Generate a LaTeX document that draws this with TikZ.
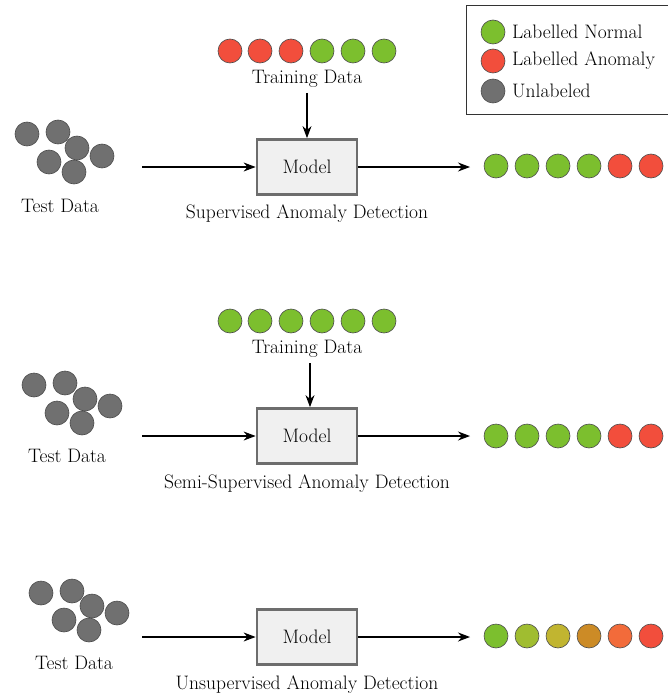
\documentclass[tikz,border=0pt]{standalone}
\usetikzlibrary{arrows.meta}
\definecolor{cgreen}{HTML}{7CBF2E}
\definecolor{cred}{HTML}{F24E3C}
\definecolor{cgray}{HTML}{707070}
\definecolor{cg2}{HTML}{A0BD30}
\definecolor{cg3}{HTML}{C1B530}
\definecolor{cg4}{HTML}{CC8B26}
\definecolor{cg5}{HTML}{F26B3A}
\definecolor{boxfill}{HTML}{F0F0F0}
\definecolor{boxline}{HTML}{6D6D6D}
\begin{document}
\begin{tikzpicture}[x=1pt,y=-1pt,
  dot/.style={circle,draw=black!70,line width=0.6pt,minimum size=24pt,inner sep=0pt},
  gdot/.style={dot,fill=cgreen},
  rdot/.style={dot,fill=cred},
  udot/.style={dot,fill=cgray},
  modelbox/.style={draw=boxline,fill=boxfill,line width=2.8pt,minimum width=100pt,minimum height=55pt,font=\fontsize{19.5}{23}\selectfont},
  lbl/.style={font=\fontsize{19.5}{23}\selectfont,inner sep=0pt},
  arr/.style={-{Stealth[length=12pt,width=9pt]},line width=1.1pt}
]
\useasboundingbox (0,0) rectangle (668,698);
% legend
\node[draw=black!80,line width=0.8pt,minimum width=202pt,minimum height=109pt,anchor=north west] (legend) at (465.5,5.5) {};
\node[gdot] (lg) at (493,32) {};
\node[rdot] (lr) at (493,61) {};
\node[udot] (lu) at (493,91) {};
\node[lbl,anchor=west] (lgt) at (512,32) {Labelled Normal};
\node[lbl,anchor=west] (lrt) at (512,61) {Labelled Anomaly};
\node[lbl,anchor=west] (lut) at (512,91) {Unlabeled};

% ===== Section 1 =====
\foreach \x/\c [count=\i] in {230/rdot,260/rdot,291/rdot,322/gdot,353/gdot,384/gdot}
  \node[\c] (ta\i) at (\x,51) {};
\node[lbl] (trA) at (307,79) {Training Data};
\node[modelbox] (mA) at (307,167) {Model};
\coordinate (trAs) at (307,93);
\draw[arr] (trAs) -- (mA.north);
\foreach \x/\y [count=\i] in {27/134,58/132,77/148,49/162,102/156,74/172}
  \node[udot] (xa\i) at (\x,\y) {};
\node[lbl] (teA) at (60,206) {Test Data};
\coordinate (inA) at (142,167);
\draw[arr] (inA) -- (mA.west);
\foreach \x/\c [count=\i] in {496/gdot,527/gdot,558/gdot,589/gdot,620/rdot,651/rdot}
  \node[\c] (oa\i) at (\x,166) {};
\coordinate (outA) at (470,167);
\draw[arr] (mA.east) -- (outA);
\node[lbl] (capA) at (307,214) {Supervised Anomaly Detection};

% ===== Section 2 =====
\foreach \x [count=\i] in {230,260,291,322,353,384}
  \node[gdot] (tb\i) at (\x,321) {};
\node[lbl] (trB) at (307,349) {Training Data};
\node[modelbox] (mB) at (307,436) {Model};
\coordinate (trBs) at (310,363);
\draw[arr] (trBs) -- (trBs |- mB.north);
\foreach \x/\y [count=\i] in {34/385,65/383,85/399,57/413,110/406,82/423}
  \node[udot] (xb\i) at (\x,\y) {};
\node[lbl] (teB) at (67,456) {Test Data};
\coordinate (inB) at (142,436);
\draw[arr] (inB) -- (mB.west);
\foreach \x/\c [count=\i] in {496/gdot,527/gdot,558/gdot,589/gdot,620/rdot,651/rdot}
  \node[\c] (ob\i) at (\x,436) {};
\coordinate (outB) at (470,436);
\draw[arr] (mB.east) -- (outB);
\node[lbl] (capB) at (307,484) {Semi-Supervised Anomaly Detection};

% ===== Section 3 =====
\node[modelbox] (mC) at (307,637) {Model};
\foreach \x/\y [count=\i] in {41/593,72/591,92/606,64/620,117/613,89/630}
  \node[udot] (xc\i) at (\x,\y) {};
\node[lbl] (teC) at (74,663) {Test Data};
\coordinate (inC) at (142,637);
\draw[arr] (inC) -- (mC.west);
\foreach \x/\c [count=\i] in {496/cgreen,527/cg2,558/cg3,589/cg4,620/cg5,651/cred}
  \node[dot,fill=\c] (oc\i) at (\x,636) {};
\coordinate (outC) at (470,637);
\draw[arr] (mC.east) -- (outC);
\node[lbl] (capC) at (307,685) {Unsupervised Anomaly Detection};
\end{tikzpicture}
\end{document}
